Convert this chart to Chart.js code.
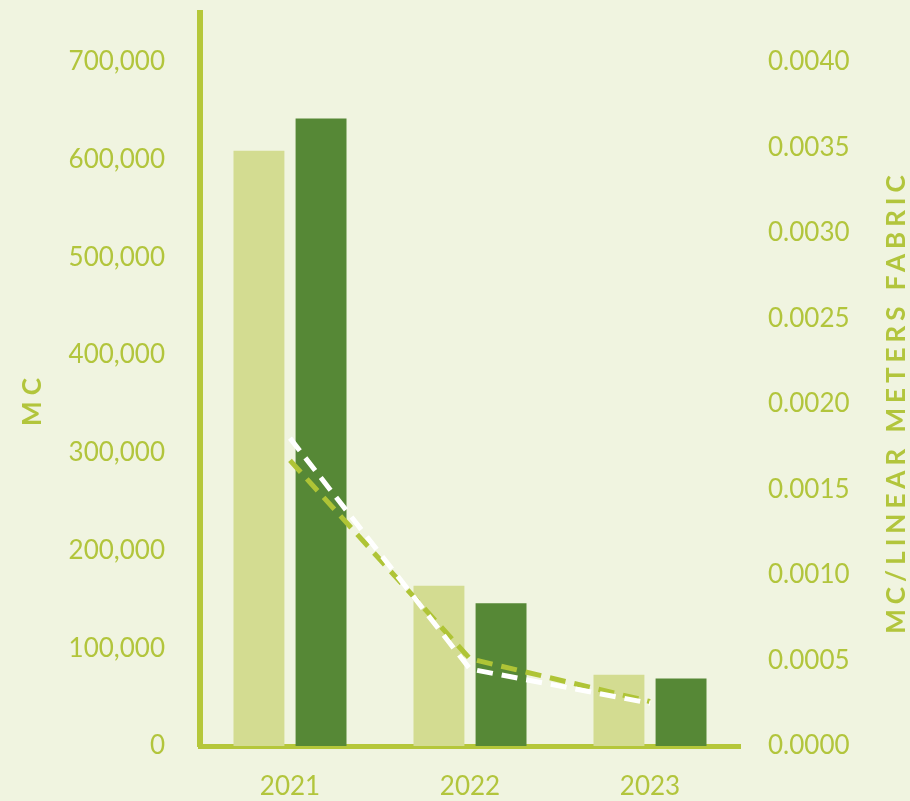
<!DOCTYPE html>
<html>
<head>
<meta charset="utf-8">
<script src="https://cdn.jsdelivr.net/npm/chart.js@4.4.1/dist/chart.umd.min.js"></script>
<style>
  html, body { margin: 0; padding: 0; background: #f0f4e0; }
  #wrap { width: 910px; height: 801px; }
</style>
</head>
<body>
<div id="wrap"><canvas id="mc_chart"></canvas></div>
<script>
// Data

const years = ['2021', '2022', '2023'];
const mc_light = [609000, 164000, 73000];
const mc_dark = [642000, 146000, 69000];
const ratio_green = [0.00167, 0.00051, 0.00026];
const ratio_white = [0.00180, 0.00045, 0.00025];

const mc_ticks = [0, 100000, 200000, 300000, 400000, 500000, 600000, 700000];
const ratio_ticks = [0, 0.0005, 0.0010, 0.0015, 0.0020, 0.0025, 0.0030, 0.0035, 0.0040];

const left_title = 'MC';
const right_title = 'MC/LINEAR METERS FABRIC';

// Colours

const green_text = '#b2c53c';
const axis_green = '#b5c73a';
const light_bar = '#d3dc91';
const dark_bar = '#568836';

const tick_font = { family: 'Lato', size: 26, weight: 'normal', lineHeight: 1 };

// axis titles drawn with letter spacing
const titles_plugin = {
    id: 'titles',
    afterDraw(chart) {
        const ctx = chart.ctx;
        ctx.save();
        ctx.fillStyle = green_text;
        ctx.font = 'bold 26px Lato';
        ctx.textAlign = 'center';
        ctx.textBaseline = 'middle';
        ctx.letterSpacing = '6px';

        ctx.save();
        ctx.translate(33, 402);
        ctx.rotate(-Math.PI / 2);
        ctx.fillText(left_title, 3, 0);
        ctx.restore();

        ctx.letterSpacing = '5px';
        ctx.save();
        ctx.translate(897, 402);
        ctx.rotate(-Math.PI / 2);
        ctx.fillText(right_title, 0, 0);
        ctx.restore();

        ctx.restore();
    }
};

const canvas = document.getElementById('mc_chart');

const chart = new Chart(canvas, {
    type: 'bar',
    data: {
        labels: years,
        datasets: [
            {
                type: 'line',
                data: ratio_white,
                yAxisID: 'y1',
                borderColor: '#ffffff',
                borderWidth: 5,
                borderDash: [16, 9],
                pointRadius: 0,
                tension: 0,
                order: 0
            },
            {
                type: 'line',
                data: ratio_green,
                yAxisID: 'y1',
                borderColor: '#afc436',
                borderWidth: 5,
                borderDash: [16, 9],
                pointRadius: 0,
                tension: 0,
                order: 1
            },
            {
                data: mc_light,
                yAxisID: 'y',
                backgroundColor: light_bar,
                categoryPercentage: 0.69,
                barPercentage: 0.82,
                order: 2
            },
            {
                data: mc_dark,
                yAxisID: 'y',
                backgroundColor: dark_bar,
                categoryPercentage: 0.69,
                barPercentage: 0.82,
                order: 2
            }
        ]
    },
    options: {
        responsive: true,
        maintainAspectRatio: false,
        animation: false,
        layout: { padding: { top: 13, left: 0, right: 0, bottom: 0 } },
        plugins: {
            legend: { display: false },
            tooltip: { enabled: false }
        },
        scales: {
            x: {
                grid: { display: false, drawTicks: false },
                border: { display: true, color: axis_green, width: 5 },
                ticks: { color: green_text, font: { family: 'Lato', size: 26 }, padding: 25 },
                afterFit(scale) { scale.height = 55; }
            },
            y: {
                position: 'left',
                min: 0,
                max: 750000,
                grid: { display: false, drawTicks: true, tickLength: 35 },
                border: { display: true, color: axis_green, width: 6 },
                ticks: {
                    autoSkip: false,
                    color: green_text,
                    font: tick_font,
                    padding: 0,
                    callback: (v) => Number(v).toLocaleString('en-US')
                },
                afterBuildTicks(scale) {
                    scale.ticks = mc_ticks.map(v => ({ value: v }));
                },
                afterFit(scale) { scale.width = 200; }
            },
            y1: {
                position: 'right',
                min: 0,
                max: 750000 / 1.75e8,
                grid: { display: false, drawTicks: true, tickLength: 28 },
                border: { display: false },
                ticks: {
                    autoSkip: false,
                    color: green_text,
                    font: tick_font,
                    padding: 0,
                    callback: (v) => Number(v).toFixed(4)
                },
                afterBuildTicks(scale) {
                    scale.ticks = ratio_ticks.map(v => ({ value: v }));
                },
                afterFit(scale) { scale.width = 170; }
            }
        }
    },
    plugins: [titles_plugin]
});
</script>
</body>
</html>
